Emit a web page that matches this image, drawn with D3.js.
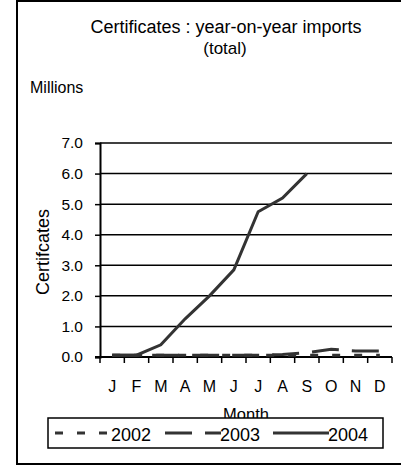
<!DOCTYPE html>
<html>
<head>
<style>
  body { margin: 0; background: #fff; }
  svg text { font-family: "Liberation Sans", Arial, sans-serif; fill: #000; }
</style>
</head>
<body>
<svg id="chart" width="401" height="468"></svg>
<script src="https://cdnjs.cloudflare.com/ajax/libs/d3/7.8.5/d3.min.js"></script>
<script>
// chart data
const months = ["J", "F", "M", "A", "M", "J", "J", "A", "S", "O", "N", "D"];
const years = ["2002", "2003", "2004"];
const values2002 = [0.06, 0.06, 0.06, 0.06, 0.06, 0.06, 0.06, 0.06, 0.06, 0.06, 0.06, 0.06];
const values2003 = [0.06, 0.06, 0.06, 0.06, 0.06, 0.06, 0.06, 0.08, 0.14, 0.25, 0.2, 0.2];
const values2004 = [0.06, 0.06, 0.4, 1.25, 2.0, 2.85, 4.75, 5.2, 6.0];
const yTicks = [0, 1, 2, 3, 4, 5, 6, 7];

const svg = d3.select("#chart");

// outer frame
svg.append("rect")
  .attr("x", 17).attr("y", 1)
  .attr("width", 400).attr("height", 463)
  .attr("fill", "none").attr("stroke", "#000").attr("stroke-width", 2);

const plot = { left: 100, right: 392, top: 143, bottom: 357 };

const x = d3.scaleBand()
  .domain(d3.range(months.length))
  .range([plot.left, plot.right])
  .paddingInner(0).paddingOuter(0);

const y = d3.scaleLinear()
  .domain([0, 7])
  .range([plot.bottom, plot.top]);

// titles
svg.append("text").attr("x", 226).attr("y", 33)
  .attr("text-anchor", "middle").style("font-size", "18px")
  .text("Certificates : year-on-year imports");
svg.append("text").attr("x", 225).attr("y", 54)
  .attr("text-anchor", "middle").style("font-size", "17px")
  .text("(total)");
svg.append("text").attr("x", 30).attr("y", 93)
  .style("font-size", "16px")
  .text("Millions");

// gridlines
svg.append("g")
  .selectAll("line")
  .data(yTicks.filter(d => d > 0))
  .join("line")
  .attr("x1", plot.left).attr("x2", plot.right)
  .attr("y1", d => y(d)).attr("y2", d => y(d))
  .attr("stroke", "#000").attr("stroke-width", 1.5);

// y axis
const yAxis = svg.append("g")
  .attr("transform", `translate(${plot.left},0)`)
  .call(d3.axisLeft(y).tickValues(yTicks).tickFormat(d3.format(".1f")).tickSize(5).tickPadding(12));
yAxis.select(".domain").attr("stroke", "#000").attr("stroke-width", 2);
yAxis.selectAll(".tick line").attr("stroke", "#000").attr("stroke-width", 1.5);
yAxis.selectAll("text").style("font-size", "15.5px").attr("fill", "#000");

// x axis: ticks between categories
const xAxisG = svg.append("g");
xAxisG.append("line")
  .attr("x1", plot.left - 5).attr("x2", plot.right)
  .attr("y1", plot.bottom).attr("y2", plot.bottom)
  .attr("stroke", "#000").attr("stroke-width", 2);
xAxisG.selectAll("line.tk")
  .data(d3.range(months.length + 1))
  .join("line")
  .attr("class", "tk")
  .attr("x1", i => i < months.length ? x(i) : plot.right)
  .attr("x2", i => i < months.length ? x(i) : plot.right)
  .attr("y1", plot.bottom).attr("y2", plot.bottom + 6)
  .attr("stroke", "#000").attr("stroke-width", 1.5);
xAxisG.selectAll("text")
  .data(months)
  .join("text")
  .attr("x", (d, i) => x(i) + x.bandwidth() / 2)
  .attr("y", 392)
  .attr("text-anchor", "middle")
  .style("font-size", "16px")
  .text(d => d);

// axis titles
svg.append("text").attr("x", 246).attr("y", 420)
  .attr("text-anchor", "middle").style("font-size", "16.5px")
  .text("Month");
svg.append("text")
  .attr("transform", `translate(49,252) rotate(-90)`)
  .attr("text-anchor", "middle").style("font-size", "18px")
  .text("Certifcates");

// series lines
const styles = { "2002": "8,14", "2003": "27,13", "2004": null };
const seriesData = { "2002": values2002, "2003": values2003, "2004": values2004 };
const line = d3.line()
  .x((d, i) => x(i) + x.bandwidth() / 2)
  .y(d => y(d));

years.forEach(yr => {
  svg.append("path")
    .datum(seriesData[yr])
    .attr("d", line)
    .attr("fill", "none")
    .attr("stroke", "#333")
    .attr("stroke-width", 3)
    .attr("stroke-dasharray", styles[yr]);
});

// legend
const legend = svg.append("g");
legend.append("rect")
  .attr("x", 48).attr("y", 418).attr("width", 335).attr("height", 30)
  .attr("fill", "#fff").attr("stroke", "#000").attr("stroke-width", 1.5);
const legendPos = [
  { x1: 55, x2: 110, tx: 111 },
  { x1: 165, x2: 221, tx: 220 },
  { x1: 273, x2: 329, tx: 328 }
];
years.forEach((yr, i) => {
  const p = legendPos[i];
  legend.append("line")
    .attr("x1", p.x1).attr("x2", p.x2)
    .attr("y1", 433).attr("y2", 433)
    .attr("stroke", "#333").attr("stroke-width", 3)
    .attr("stroke-dasharray", styles[yr]);
  legend.append("text")
    .attr("x", p.tx).attr("y", 441)
    .style("font-size", "18px")
    .text(yr);
});
</script>
</body>
</html>
